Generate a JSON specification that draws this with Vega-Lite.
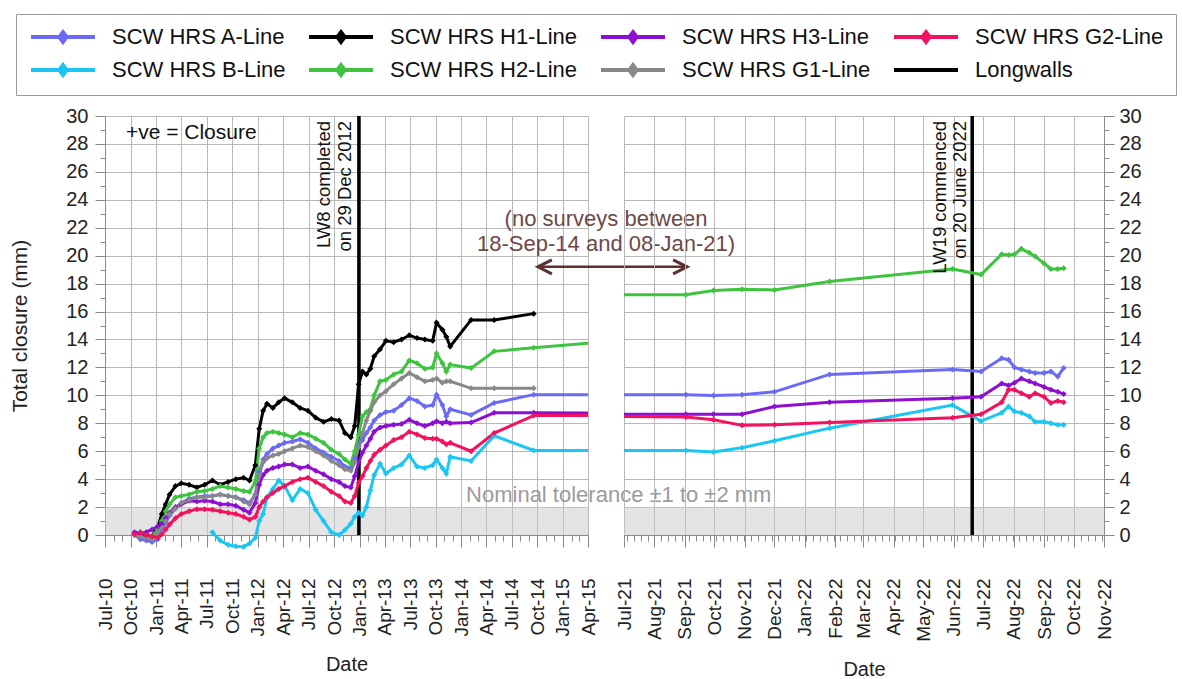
{
"$schema": "https://vega.github.io/schema/vega-lite/v6.json",
"padding": {"left": 9, "top": 13, "right": 10, "bottom": 5},
"config": {
  "font": "Liberation Sans",
  "view": {"stroke": null},
  "axis": {"labelFont":"Liberation Sans","titleFont":"Liberation Sans","labelColor":"#222222","titleColor":"#222222","domainColor":"#8a8a8a","tickColor":"#8a8a8a","gridColor":"#b8b8b8","labelFontSize":20,"titleFontSize":20,"titleFontWeight":"normal","labelOverlap":false,"labelFlush":false},
  "legend": {"orient":"none","legendX":-89,"legendY":-102,"columns":4,"gridAlign":"each","labelFont":"Liberation Sans","labelFontSize":22,"labelColor":"#111111","labelLimit":400,"symbolType":"M-1,0L7,0M3,-0.6L3.45,0L3,0.6L2.55,0Z","symbolSize":256,"symbolStrokeWidth":4,"labelOffset":62,"columnPadding":15,"rowPadding":7,"padding":12,"strokeColor":"#9a9a9a","fillColor":"#ffffff"}
},
"datasets": {
"lw": [{"d":"2012-12-29","s":"LW"},{"d":"2022-06-20","s":"LW"}],
"pts": [
{"d":"2010-10-15","s":"A","v":0},{"d":"2010-11-05","s":"A","v":-0.3},{"d":"2010-11-26","s":"A","v":-0.4},{"d":"2010-12-17","s":"A","v":-0.5},{"d":"2011-01-07","s":"A","v":-0.3},{"d":"2011-01-21","s":"A","v":0.3},{"d":"2011-02-04","s":"A","v":0.9},{"d":"2011-02-18","s":"A","v":1.4},{"d":"2011-03-11","s":"A","v":1.9},{"d":"2011-04-01","s":"A","v":2.3},
{"d":"2011-04-29","s":"A","v":2.6},{"d":"2011-05-27","s":"A","v":2.7},{"d":"2011-06-24","s":"A","v":2.8},{"d":"2011-07-22","s":"A","v":2.8},{"d":"2011-08-19","s":"A","v":2.9},{"d":"2011-09-16","s":"A","v":2.8},{"d":"2011-10-14","s":"A","v":2.7},{"d":"2011-11-11","s":"A","v":2.5},{"d":"2011-12-02","s":"A","v":2.3},{"d":"2011-12-23","s":"A","v":2.9},
{"d":"2012-01-06","s":"A","v":4.5},{"d":"2012-01-20","s":"A","v":5.4},{"d":"2012-02-03","s":"A","v":5.8},{"d":"2012-02-24","s":"A","v":6.2},{"d":"2012-03-16","s":"A","v":6.4},{"d":"2012-04-06","s":"A","v":6.6},{"d":"2012-05-04","s":"A","v":6.7},{"d":"2012-06-01","s":"A","v":6.85},{"d":"2012-06-29","s":"A","v":6.6},{"d":"2012-07-27","s":"A","v":6.2},
{"d":"2012-08-24","s":"A","v":5.9},{"d":"2012-09-21","s":"A","v":5.6},{"d":"2012-10-19","s":"A","v":5.3},{"d":"2012-11-09","s":"A","v":4.9},{"d":"2012-11-30","s":"A","v":4.8},{"d":"2012-12-14","s":"A","v":5.5},{"d":"2012-12-28","s":"A","v":6.4},{"d":"2013-01-11","s":"A","v":6.8},{"d":"2013-01-25","s":"A","v":7.3},{"d":"2013-02-08","s":"A","v":7.7},
{"d":"2013-02-22","s":"A","v":8.2},{"d":"2013-03-15","s":"A","v":8.6},{"d":"2013-04-05","s":"A","v":8.8},{"d":"2013-05-03","s":"A","v":8.9},{"d":"2013-05-31","s":"A","v":9.3},{"d":"2013-06-28","s":"A","v":9.8},{"d":"2013-07-26","s":"A","v":9.6},{"d":"2013-08-23","s":"A","v":9.2},{"d":"2013-09-20","s":"A","v":9.3},{"d":"2013-10-04","s":"A","v":10.05},
{"d":"2013-10-25","s":"A","v":9.3},{"d":"2013-11-08","s":"A","v":8.5},{"d":"2013-11-22","s":"A","v":9.0},{"d":"2014-02-05","s":"A","v":8.6},{"d":"2014-04-29","s":"A","v":9.45},{"d":"2014-09-18","s":"A","v":10.05},{"d":"2021-01-08","s":"A","v":10.05},
{"d":"2021-09-02","s":"A","v":10.05},{"d":"2021-09-30","s":"A","v":9.98},{"d":"2021-10-29","s":"A","v":10.05},{"d":"2021-12-01","s":"A","v":10.25},{"d":"2022-01-26","s":"A","v":11.5},{"d":"2022-05-31","s":"A","v":11.85},{"d":"2022-06-29","s":"A","v":11.7},{"d":"2022-07-20","s":"A","v":12.65},{"d":"2022-07-27","s":"A","v":12.55},{"d":"2022-08-02","s":"A","v":12.0},{"d":"2022-08-09","s":"A","v":11.85},{"d":"2022-08-17","s":"A","v":11.7},{"d":"2022-08-23","s":"A","v":11.6},{"d":"2022-09-01","s":"A","v":11.6},{"d":"2022-09-08","s":"A","v":11.7},{"d":"2022-09-15","s":"A","v":11.35},{"d":"2022-09-21","s":"A","v":11.95},

{"d":"2011-07-22","s":"B","v":0.2},{"d":"2011-08-19","s":"B","v":-0.4},{"d":"2011-09-16","s":"B","v":-0.7},{"d":"2011-10-14","s":"B","v":-0.8},{"d":"2011-11-11","s":"B","v":-0.85},{"d":"2011-12-02","s":"B","v":-0.6},{"d":"2011-12-23","s":"B","v":-0.2},
{"d":"2012-01-06","s":"B","v":1.0},{"d":"2012-01-20","s":"B","v":1.5},{"d":"2012-02-03","s":"B","v":2.7},{"d":"2012-02-24","s":"B","v":3.3},{"d":"2012-03-16","s":"B","v":3.9},{"d":"2012-04-06","s":"B","v":3.5},{"d":"2012-05-04","s":"B","v":2.5},{"d":"2012-06-01","s":"B","v":3.3},{"d":"2012-06-29","s":"B","v":3.0},{"d":"2012-07-27","s":"B","v":1.8},
{"d":"2012-08-24","s":"B","v":1.0},{"d":"2012-09-21","s":"B","v":0.2},{"d":"2012-10-19","s":"B","v":0.0},{"d":"2012-11-09","s":"B","v":0.35},{"d":"2012-11-30","s":"B","v":0.8},{"d":"2012-12-14","s":"B","v":1.3},{"d":"2012-12-28","s":"B","v":1.6},{"d":"2013-01-11","s":"B","v":1.4},{"d":"2013-01-25","s":"B","v":2.0},{"d":"2013-02-08","s":"B","v":3.2},
{"d":"2013-02-22","s":"B","v":4.3},{"d":"2013-03-15","s":"B","v":5.1},{"d":"2013-04-05","s":"B","v":4.4},{"d":"2013-05-03","s":"B","v":4.8},{"d":"2013-05-31","s":"B","v":5.05},{"d":"2013-06-28","s":"B","v":5.7},{"d":"2013-07-26","s":"B","v":4.9},{"d":"2013-08-23","s":"B","v":4.8},{"d":"2013-09-20","s":"B","v":5.0},{"d":"2013-10-04","s":"B","v":5.4},
{"d":"2013-10-25","s":"B","v":4.8},{"d":"2013-11-08","s":"B","v":4.4},{"d":"2013-11-22","s":"B","v":5.6},{"d":"2014-02-05","s":"B","v":5.3},{"d":"2014-04-29","s":"B","v":7.1},{"d":"2014-09-18","s":"B","v":6.05},{"d":"2021-01-08","s":"B","v":6.05},
{"d":"2021-09-02","s":"B","v":6.05},{"d":"2021-09-30","s":"B","v":5.95},{"d":"2021-10-29","s":"B","v":6.25},{"d":"2021-12-01","s":"B","v":6.75},{"d":"2022-01-26","s":"B","v":7.65},{"d":"2022-05-31","s":"B","v":9.3},{"d":"2022-06-29","s":"B","v":8.15},{"d":"2022-07-20","s":"B","v":8.75},{"d":"2022-07-27","s":"B","v":9.2},{"d":"2022-08-02","s":"B","v":8.85},{"d":"2022-08-09","s":"B","v":8.75},{"d":"2022-08-17","s":"B","v":8.5},{"d":"2022-08-23","s":"B","v":8.1},{"d":"2022-09-01","s":"B","v":8.1},{"d":"2022-09-08","s":"B","v":8.0},{"d":"2022-09-15","s":"B","v":7.9},{"d":"2022-09-21","s":"B","v":7.9},

{"d":"2010-10-15","s":"H1","v":0.1},{"d":"2010-11-05","s":"H1","v":0.2},{"d":"2010-11-26","s":"H1","v":0.0},{"d":"2010-12-17","s":"H1","v":-0.1},{"d":"2011-01-07","s":"H1","v":0.6},{"d":"2011-01-21","s":"H1","v":1.5},{"d":"2011-02-04","s":"H1","v":2.2},{"d":"2011-02-18","s":"H1","v":2.9},{"d":"2011-03-11","s":"H1","v":3.5},{"d":"2011-04-01","s":"H1","v":3.7},
{"d":"2011-04-29","s":"H1","v":3.6},{"d":"2011-05-27","s":"H1","v":3.4},{"d":"2011-06-24","s":"H1","v":3.6},{"d":"2011-07-22","s":"H1","v":3.9},{"d":"2011-08-19","s":"H1","v":3.6},{"d":"2011-09-16","s":"H1","v":3.8},{"d":"2011-10-14","s":"H1","v":4.0},{"d":"2011-11-11","s":"H1","v":4.1},{"d":"2011-12-02","s":"H1","v":3.9},{"d":"2011-12-23","s":"H1","v":5.0},
{"d":"2012-01-06","s":"H1","v":7.6},{"d":"2012-01-20","s":"H1","v":8.9},{"d":"2012-02-03","s":"H1","v":9.4},{"d":"2012-02-24","s":"H1","v":9.1},{"d":"2012-03-16","s":"H1","v":9.5},{"d":"2012-04-06","s":"H1","v":9.8},{"d":"2012-05-04","s":"H1","v":9.5},{"d":"2012-06-01","s":"H1","v":9.1},{"d":"2012-06-29","s":"H1","v":8.9},{"d":"2012-07-27","s":"H1","v":8.4},
{"d":"2012-08-24","s":"H1","v":8.1},{"d":"2012-09-21","s":"H1","v":8.3},{"d":"2012-10-19","s":"H1","v":8.2},{"d":"2012-11-09","s":"H1","v":7.3},{"d":"2012-11-30","s":"H1","v":7.0},{"d":"2012-12-14","s":"H1","v":7.8},{"d":"2012-12-28","s":"H1","v":10.8},{"d":"2013-01-11","s":"H1","v":11.7},{"d":"2013-01-25","s":"H1","v":11.5},{"d":"2013-02-08","s":"H1","v":11.9},
{"d":"2013-02-22","s":"H1","v":12.8},{"d":"2013-03-15","s":"H1","v":13.3},{"d":"2013-04-05","s":"H1","v":13.9},{"d":"2013-05-03","s":"H1","v":13.8},{"d":"2013-05-31","s":"H1","v":14.0},{"d":"2013-06-28","s":"H1","v":14.3},{"d":"2013-07-26","s":"H1","v":14.1},{"d":"2013-08-23","s":"H1","v":14.0},{"d":"2013-09-20","s":"H1","v":13.9},{"d":"2013-10-04","s":"H1","v":15.2},
{"d":"2013-10-25","s":"H1","v":14.7},{"d":"2013-11-08","s":"H1","v":14.2},{"d":"2013-11-22","s":"H1","v":13.5},{"d":"2014-02-05","s":"H1","v":15.4},{"d":"2014-04-29","s":"H1","v":15.4},{"d":"2014-09-18","s":"H1","v":15.85},

{"d":"2010-10-15","s":"H2","v":0.1},{"d":"2010-11-05","s":"H2","v":0.2},{"d":"2010-11-26","s":"H2","v":0.1},{"d":"2010-12-17","s":"H2","v":-0.1},{"d":"2011-01-07","s":"H2","v":0.4},{"d":"2011-01-21","s":"H2","v":1.0},{"d":"2011-02-04","s":"H2","v":1.7},{"d":"2011-02-18","s":"H2","v":2.2},{"d":"2011-03-11","s":"H2","v":2.7},{"d":"2011-04-01","s":"H2","v":2.8},
{"d":"2011-04-29","s":"H2","v":2.9},{"d":"2011-05-27","s":"H2","v":3.1},{"d":"2011-06-24","s":"H2","v":3.15},{"d":"2011-07-22","s":"H2","v":3.3},{"d":"2011-08-19","s":"H2","v":3.5},{"d":"2011-09-16","s":"H2","v":3.4},{"d":"2011-10-14","s":"H2","v":3.3},{"d":"2011-11-11","s":"H2","v":3.15},{"d":"2011-12-02","s":"H2","v":3.1},{"d":"2011-12-23","s":"H2","v":3.8},
{"d":"2012-01-06","s":"H2","v":6.2},{"d":"2012-01-20","s":"H2","v":7.0},{"d":"2012-02-03","s":"H2","v":7.3},{"d":"2012-02-24","s":"H2","v":7.4},{"d":"2012-03-16","s":"H2","v":7.3},{"d":"2012-04-06","s":"H2","v":7.2},{"d":"2012-05-04","s":"H2","v":7.0},{"d":"2012-06-01","s":"H2","v":7.3},{"d":"2012-06-29","s":"H2","v":7.2},{"d":"2012-07-27","s":"H2","v":6.9},
{"d":"2012-08-24","s":"H2","v":6.6},{"d":"2012-09-21","s":"H2","v":6.1},{"d":"2012-10-19","s":"H2","v":5.8},{"d":"2012-11-09","s":"H2","v":5.4},{"d":"2012-11-30","s":"H2","v":5.1},{"d":"2012-12-14","s":"H2","v":6.0},{"d":"2012-12-28","s":"H2","v":7.2},{"d":"2013-01-11","s":"H2","v":8.5},{"d":"2013-01-25","s":"H2","v":8.8},{"d":"2013-02-08","s":"H2","v":9.0},
{"d":"2013-02-22","s":"H2","v":10.0},{"d":"2013-03-15","s":"H2","v":11.0},{"d":"2013-04-05","s":"H2","v":11.1},{"d":"2013-05-03","s":"H2","v":11.5},{"d":"2013-05-31","s":"H2","v":11.7},{"d":"2013-06-28","s":"H2","v":12.5},{"d":"2013-07-26","s":"H2","v":12.3},{"d":"2013-08-23","s":"H2","v":11.9},{"d":"2013-09-20","s":"H2","v":12.0},{"d":"2013-10-04","s":"H2","v":13.0},
{"d":"2013-10-25","s":"H2","v":12.3},{"d":"2013-11-08","s":"H2","v":11.7},{"d":"2013-11-22","s":"H2","v":12.2},{"d":"2014-02-05","s":"H2","v":11.95},{"d":"2014-04-29","s":"H2","v":13.15},{"d":"2014-09-18","s":"H2","v":13.4},{"d":"2021-01-08","s":"H2","v":17.2},
{"d":"2021-09-02","s":"H2","v":17.2},{"d":"2021-09-30","s":"H2","v":17.5},{"d":"2021-10-29","s":"H2","v":17.6},{"d":"2021-12-01","s":"H2","v":17.55},{"d":"2022-01-26","s":"H2","v":18.15},{"d":"2022-05-31","s":"H2","v":19.05},{"d":"2022-06-29","s":"H2","v":18.65},{"d":"2022-07-20","s":"H2","v":20.1},{"d":"2022-07-27","s":"H2","v":20.05},{"d":"2022-08-02","s":"H2","v":20.1},{"d":"2022-08-09","s":"H2","v":20.5},{"d":"2022-08-17","s":"H2","v":20.2},{"d":"2022-08-23","s":"H2","v":19.95},{"d":"2022-09-01","s":"H2","v":19.45},{"d":"2022-09-08","s":"H2","v":19.05},{"d":"2022-09-15","s":"H2","v":19.05},{"d":"2022-09-21","s":"H2","v":19.1},

{"d":"2010-10-15","s":"H3","v":0.2},{"d":"2010-11-05","s":"H3","v":0.1},{"d":"2010-11-26","s":"H3","v":0.2},{"d":"2010-12-17","s":"H3","v":0.4},{"d":"2011-01-07","s":"H3","v":0.6},{"d":"2011-01-21","s":"H3","v":0.8},{"d":"2011-02-04","s":"H3","v":1.2},{"d":"2011-02-18","s":"H3","v":1.6},{"d":"2011-03-11","s":"H3","v":2.0},{"d":"2011-04-01","s":"H3","v":2.2},
{"d":"2011-04-29","s":"H3","v":2.45},{"d":"2011-05-27","s":"H3","v":2.4},{"d":"2011-06-24","s":"H3","v":2.45},{"d":"2011-07-22","s":"H3","v":2.4},{"d":"2011-08-19","s":"H3","v":2.2},{"d":"2011-09-16","s":"H3","v":2.2},{"d":"2011-10-14","s":"H3","v":2.1},{"d":"2011-11-11","s":"H3","v":1.8},{"d":"2011-12-02","s":"H3","v":1.6},{"d":"2011-12-23","s":"H3","v":2.3},
{"d":"2012-01-06","s":"H3","v":3.6},{"d":"2012-01-20","s":"H3","v":4.3},{"d":"2012-02-03","s":"H3","v":4.6},{"d":"2012-02-24","s":"H3","v":4.8},{"d":"2012-03-16","s":"H3","v":4.9},{"d":"2012-04-06","s":"H3","v":5.05},{"d":"2012-05-04","s":"H3","v":5.05},{"d":"2012-06-01","s":"H3","v":4.8},{"d":"2012-06-29","s":"H3","v":4.9},{"d":"2012-07-27","s":"H3","v":4.6},
{"d":"2012-08-24","s":"H3","v":4.35},{"d":"2012-09-21","s":"H3","v":4.0},{"d":"2012-10-19","s":"H3","v":3.8},{"d":"2012-11-09","s":"H3","v":3.5},{"d":"2012-11-30","s":"H3","v":3.4},{"d":"2012-12-14","s":"H3","v":4.2},{"d":"2012-12-28","s":"H3","v":5.2},{"d":"2013-01-11","s":"H3","v":5.9},{"d":"2013-01-25","s":"H3","v":6.4},{"d":"2013-02-08","s":"H3","v":6.9},
{"d":"2013-02-22","s":"H3","v":7.4},{"d":"2013-03-15","s":"H3","v":7.7},{"d":"2013-04-05","s":"H3","v":7.8},{"d":"2013-05-03","s":"H3","v":7.9},{"d":"2013-05-31","s":"H3","v":7.95},{"d":"2013-06-28","s":"H3","v":8.25},{"d":"2013-07-26","s":"H3","v":8.0},{"d":"2013-08-23","s":"H3","v":7.8},{"d":"2013-09-20","s":"H3","v":8.0},{"d":"2013-10-04","s":"H3","v":8.15},
{"d":"2013-10-25","s":"H3","v":8.0},{"d":"2013-11-08","s":"H3","v":8.1},{"d":"2013-11-22","s":"H3","v":8.0},{"d":"2014-02-05","s":"H3","v":8.05},{"d":"2014-04-29","s":"H3","v":8.75},{"d":"2014-09-18","s":"H3","v":8.75},{"d":"2021-01-08","s":"H3","v":8.65},
{"d":"2021-09-02","s":"H3","v":8.65},{"d":"2021-09-30","s":"H3","v":8.65},{"d":"2021-10-29","s":"H3","v":8.65},{"d":"2021-12-01","s":"H3","v":9.2},{"d":"2022-01-26","s":"H3","v":9.5},{"d":"2022-05-31","s":"H3","v":9.8},{"d":"2022-06-29","s":"H3","v":9.9},{"d":"2022-07-20","s":"H3","v":10.85},{"d":"2022-07-27","s":"H3","v":10.7},{"d":"2022-08-02","s":"H3","v":10.9},{"d":"2022-08-09","s":"H3","v":11.2},{"d":"2022-08-17","s":"H3","v":11.0},{"d":"2022-08-23","s":"H3","v":10.85},{"d":"2022-09-01","s":"H3","v":10.6},{"d":"2022-09-08","s":"H3","v":10.4},{"d":"2022-09-15","s":"H3","v":10.25},{"d":"2022-09-21","s":"H3","v":10.1},

{"d":"2010-10-15","s":"G1","v":0.0},{"d":"2010-11-05","s":"G1","v":-0.1},{"d":"2010-11-26","s":"G1","v":-0.2},{"d":"2010-12-17","s":"G1","v":-0.3},{"d":"2011-01-07","s":"G1","v":0.2},{"d":"2011-01-21","s":"G1","v":0.5},{"d":"2011-02-04","s":"G1","v":1.0},{"d":"2011-02-18","s":"G1","v":1.5},{"d":"2011-03-11","s":"G1","v":1.9},{"d":"2011-04-01","s":"G1","v":2.3},
{"d":"2011-04-29","s":"G1","v":2.5},{"d":"2011-05-27","s":"G1","v":2.7},{"d":"2011-06-24","s":"G1","v":2.7},{"d":"2011-07-22","s":"G1","v":2.8},{"d":"2011-08-19","s":"G1","v":2.9},{"d":"2011-09-16","s":"G1","v":2.8},{"d":"2011-10-14","s":"G1","v":2.7},{"d":"2011-11-11","s":"G1","v":2.4},{"d":"2011-12-02","s":"G1","v":2.2},{"d":"2011-12-23","s":"G1","v":2.9},
{"d":"2012-01-06","s":"G1","v":4.3},{"d":"2012-01-20","s":"G1","v":5.2},{"d":"2012-02-03","s":"G1","v":5.5},{"d":"2012-02-24","s":"G1","v":5.7},{"d":"2012-03-16","s":"G1","v":5.8},{"d":"2012-04-06","s":"G1","v":6.0},{"d":"2012-05-04","s":"G1","v":6.2},{"d":"2012-06-01","s":"G1","v":6.4},{"d":"2012-06-29","s":"G1","v":6.3},{"d":"2012-07-27","s":"G1","v":6.0},
{"d":"2012-08-24","s":"G1","v":5.7},{"d":"2012-09-21","s":"G1","v":5.3},{"d":"2012-10-19","s":"G1","v":5.0},{"d":"2012-11-09","s":"G1","v":4.7},{"d":"2012-11-30","s":"G1","v":4.6},{"d":"2012-12-14","s":"G1","v":5.2},{"d":"2012-12-28","s":"G1","v":6.3},{"d":"2013-01-11","s":"G1","v":7.3},{"d":"2013-01-25","s":"G1","v":8.2},{"d":"2013-02-08","s":"G1","v":8.9},
{"d":"2013-02-22","s":"G1","v":9.5},{"d":"2013-03-15","s":"G1","v":10.0},{"d":"2013-04-05","s":"G1","v":10.3},{"d":"2013-05-03","s":"G1","v":10.8},{"d":"2013-05-31","s":"G1","v":11.2},{"d":"2013-06-28","s":"G1","v":11.6},{"d":"2013-07-26","s":"G1","v":11.3},{"d":"2013-08-23","s":"G1","v":11.0},{"d":"2013-09-20","s":"G1","v":11.1},{"d":"2013-10-04","s":"G1","v":11.2},
{"d":"2013-10-25","s":"G1","v":10.9},{"d":"2013-11-08","s":"G1","v":11.0},{"d":"2013-11-22","s":"G1","v":11.0},{"d":"2014-02-05","s":"G1","v":10.5},{"d":"2014-04-29","s":"G1","v":10.5},{"d":"2014-09-18","s":"G1","v":10.5},

{"d":"2010-10-15","s":"G2","v":0.05},{"d":"2010-11-05","s":"G2","v":0.15},{"d":"2010-11-26","s":"G2","v":0.0},{"d":"2010-12-17","s":"G2","v":-0.1},{"d":"2011-01-07","s":"G2","v":-0.2},{"d":"2011-01-21","s":"G2","v":0.05},{"d":"2011-02-04","s":"G2","v":0.4},{"d":"2011-02-18","s":"G2","v":0.75},{"d":"2011-03-11","s":"G2","v":1.2},{"d":"2011-04-01","s":"G2","v":1.5},
{"d":"2011-04-29","s":"G2","v":1.7},{"d":"2011-05-27","s":"G2","v":1.85},{"d":"2011-06-24","s":"G2","v":1.85},{"d":"2011-07-22","s":"G2","v":1.8},{"d":"2011-08-19","s":"G2","v":1.7},{"d":"2011-09-16","s":"G2","v":1.6},{"d":"2011-10-14","s":"G2","v":1.5},{"d":"2011-11-11","s":"G2","v":1.3},{"d":"2011-12-02","s":"G2","v":1.1},{"d":"2011-12-23","s":"G2","v":1.3},
{"d":"2012-01-06","s":"G2","v":2.0},{"d":"2012-01-20","s":"G2","v":2.4},{"d":"2012-02-03","s":"G2","v":2.7},{"d":"2012-02-24","s":"G2","v":3.0},{"d":"2012-03-16","s":"G2","v":3.3},{"d":"2012-04-06","s":"G2","v":3.5},{"d":"2012-05-04","s":"G2","v":3.8},{"d":"2012-06-01","s":"G2","v":4.0},{"d":"2012-06-29","s":"G2","v":4.1},{"d":"2012-07-27","s":"G2","v":3.8},
{"d":"2012-08-24","s":"G2","v":3.5},{"d":"2012-09-21","s":"G2","v":3.1},{"d":"2012-10-19","s":"G2","v":2.8},{"d":"2012-11-09","s":"G2","v":2.4},{"d":"2012-11-30","s":"G2","v":2.3},{"d":"2012-12-14","s":"G2","v":2.8},{"d":"2012-12-28","s":"G2","v":3.75},{"d":"2013-01-11","s":"G2","v":4.2},{"d":"2013-01-25","s":"G2","v":4.8},{"d":"2013-02-08","s":"G2","v":5.3},
{"d":"2013-02-22","s":"G2","v":5.75},{"d":"2013-03-15","s":"G2","v":6.1},{"d":"2013-04-05","s":"G2","v":6.4},{"d":"2013-05-03","s":"G2","v":6.8},{"d":"2013-05-31","s":"G2","v":7.0},{"d":"2013-06-28","s":"G2","v":7.4},{"d":"2013-07-26","s":"G2","v":7.2},{"d":"2013-08-23","s":"G2","v":6.95},{"d":"2013-09-20","s":"G2","v":6.9},{"d":"2013-10-04","s":"G2","v":6.9},
{"d":"2013-10-25","s":"G2","v":6.7},{"d":"2013-11-08","s":"G2","v":6.5},{"d":"2013-11-22","s":"G2","v":6.6},{"d":"2014-02-05","s":"G2","v":6.0},{"d":"2014-04-29","s":"G2","v":7.3},{"d":"2014-09-18","s":"G2","v":8.55},{"d":"2021-01-08","s":"G2","v":8.6},
{"d":"2021-09-02","s":"G2","v":8.45},{"d":"2021-09-30","s":"G2","v":8.25},{"d":"2021-10-29","s":"G2","v":7.85},{"d":"2021-12-01","s":"G2","v":7.9},{"d":"2022-01-26","s":"G2","v":8.05},{"d":"2022-05-31","s":"G2","v":8.4},{"d":"2022-06-29","s":"G2","v":8.65},{"d":"2022-07-20","s":"G2","v":9.5},{"d":"2022-07-27","s":"G2","v":10.4},{"d":"2022-08-02","s":"G2","v":10.4},{"d":"2022-08-09","s":"G2","v":10.15},{"d":"2022-08-17","s":"G2","v":9.9},{"d":"2022-08-23","s":"G2","v":10.15},{"d":"2022-09-01","s":"G2","v":9.9},{"d":"2022-09-08","s":"G2","v":9.45},{"d":"2022-09-15","s":"G2","v":9.6},{"d":"2022-09-21","s":"G2","v":9.5}
]
},
"spacing": 36,
"bounds": "flush",
"resolve": {"scale": {"color": "shared"}, "legend": {"color": "shared"}},
"hconcat": [
{
 "width": 483, "height": 419,
 "resolve": {"axis": {"x": "independent", "y": "independent"}},
 "layer": [
  {
   "data": {"values": [{"lo": 0, "hi": 2}]},
   "mark": {"type": "rect", "fill": "#c9c9c9", "opacity": 0.5},
   "encoding": {
    "y": {"field": "lo", "type": "quantitative", "scale": {"domain": [0, 30], "nice": false, "zero": false},
          "axis": {"orient": "left", "values": [0,2,4,6,8,10,12,14,16,18,20,22,24,26,28,30], "grid": true, "tickSize": 10, "labelPadding": 7, "title": "Total closure (mm)", "titleFontSize": 21, "titlePadding": 35}},
    "y2": {"field": "hi"}
   }
  },
  {
   "data": {"name": "lw"},
   "mark": {"type": "rule", "clip": true, "strokeWidth": 3.5},
   "encoding": {
    "x": {"field": "d", "type": "temporal", "scale": {"domain": [{"year":2010,"month":7,"date":1},{"year":2015,"month":4,"date":1}]},
          "axis": {"orient": "bottom", "tickCount": {"interval": "month", "step": 1}, "labels": false, "grid": false, "domain": false, "tickSize": 6, "title": null}},
    "color": {"field": "s", "type": "nominal", "scale": {"domain": ["A","B","H1","H2","H3","G1","G2","LW"], "range": ["#6a6af5","#1cc6f2","#000000","#3ec43e","#8c0fd2","#888888","#f2125e","#000000"]},
              "legend": {"title": null, "labelExpr": "datum.label == 'LW' ? 'Longwalls' : 'SCW HRS ' + datum.label + '-Line'", "encode": {"symbols": {"update": {"fill": {"scale": "color", "field": "value"}, "stroke": {"scale": "color", "field": "value"}, "shape": {"signal": "datum.value == 'LW' ? 'M-1,0L7,0' : 'M-1,0L7,0M3,-0.6L3.45,0L3,0.6L2.55,0Z'"}}}}}}
   }
  },
  {
   "data": {"name": "pts"},
   "transform": [{"filter": {"field": "d", "lt": {"year": 2015, "month": 1, "date": 1}}}],
   "mark": {"type": "line", "clip": false, "strokeWidth": 3},
   "encoding": {
    "x": {"field": "d", "type": "temporal", "scale": {"domain": [{"year":2010,"month":7,"date":1},{"year":2015,"month":4,"date":1}]},
          "axis": {"orient": "bottom", "values": [{"year":2010,"month":7,"date":1},{"year":2010,"month":10,"date":1},{"year":2011,"month":1,"date":1},{"year":2011,"month":4,"date":1},{"year":2011,"month":7,"date":1},{"year":2011,"month":10,"date":1},{"year":2012,"month":1,"date":1},{"year":2012,"month":4,"date":1},{"year":2012,"month":7,"date":1},{"year":2012,"month":10,"date":1},{"year":2013,"month":1,"date":1},{"year":2013,"month":4,"date":1},{"year":2013,"month":7,"date":1},{"year":2013,"month":10,"date":1},{"year":2014,"month":1,"date":1},{"year":2014,"month":4,"date":1},{"year":2014,"month":7,"date":1},{"year":2014,"month":10,"date":1},{"year":2015,"month":1,"date":1},{"year":2015,"month":4,"date":1}],
                   "format": "%b-%y", "labelAngle": 270, "labelAlign": "right", "labelBaseline": "middle", "labelFontSize": 19, "tickSize": 12, "labelPadding": 31, "grid": true, "title": "Date", "titlePadding": 18}},
    "y": {"field": "v", "type": "quantitative", "scale": {"domain": [0, 30], "nice": false, "zero": false}, "axis": null},
    "color": {"field": "s", "type": "nominal", "scale": {"domain": ["A","B","H1","H2","H3","G1","G2","LW"], "range": ["#6a6af5","#1cc6f2","#000000","#3ec43e","#8c0fd2","#888888","#f2125e","#000000"]},
              "legend": {"title": null, "labelExpr": "datum.label == 'LW' ? 'Longwalls' : 'SCW HRS ' + datum.label + '-Line'", "encode": {"symbols": {"update": {"fill": {"scale": "color", "field": "value"}, "stroke": {"scale": "color", "field": "value"}, "shape": {"signal": "datum.value == 'LW' ? 'M-1,0L7,0' : 'M-1,0L7,0M3,-0.6L3.45,0L3,0.6L2.55,0Z'"}}}}}}
   }
  },
  {
   "data": {"name": "pts"},
   "transform": [{"filter": {"field": "d", "range": [{"year": 2014, "month": 9, "date": 1}, {"year": 2021, "month": 2, "date": 1}]}}],
   "mark": {"type": "line", "clip": true, "strokeWidth": 3},
   "encoding": {
    "x": {"field": "d", "type": "temporal", "scale": {"domain": [{"year":2010,"month":7,"date":1},{"year":2015,"month":4,"date":1}]}, "axis": null},
    "y": {"field": "v", "type": "quantitative", "scale": {"domain": [0, 30], "nice": false, "zero": false}, "axis": null},
    "color": {"field": "s", "type": "nominal", "scale": {"domain": ["A","B","H1","H2","H3","G1","G2","LW"], "range": ["#6a6af5","#1cc6f2","#000000","#3ec43e","#8c0fd2","#888888","#f2125e","#000000"]},
              "legend": {"title": null, "labelExpr": "datum.label == 'LW' ? 'Longwalls' : 'SCW HRS ' + datum.label + '-Line'", "encode": {"symbols": {"update": {"fill": {"scale": "color", "field": "value"}, "stroke": {"scale": "color", "field": "value"}, "shape": {"signal": "datum.value == 'LW' ? 'M-1,0L7,0' : 'M-1,0L7,0M3,-0.6L3.45,0L3,0.6L2.55,0Z'"}}}}}}
   }
  },
  {
   "data": {"name": "pts"},
   "transform": [{"filter": {"field": "d", "lt": {"year": 2015, "month": 1, "date": 1}}}],
   "mark": {"type": "point", "clip": false, "shape": "diamond", "filled": true, "size": 36, "opacity": 1},
   "encoding": {
    "x": {"field": "d", "type": "temporal", "scale": {"domain": [{"year":2010,"month":7,"date":1},{"year":2015,"month":4,"date":1}]}, "axis": null},
    "y": {"field": "v", "type": "quantitative", "scale": {"domain": [0, 30], "nice": false, "zero": false}, "axis": null},
    "color": {"field": "s", "type": "nominal", "scale": {"domain": ["A","B","H1","H2","H3","G1","G2","LW"], "range": ["#6a6af5","#1cc6f2","#000000","#3ec43e","#8c0fd2","#888888","#f2125e","#000000"]},
              "legend": {"title": null, "labelExpr": "datum.label == 'LW' ? 'Longwalls' : 'SCW HRS ' + datum.label + '-Line'", "encode": {"symbols": {"update": {"fill": {"scale": "color", "field": "value"}, "stroke": {"scale": "color", "field": "value"}, "shape": {"signal": "datum.value == 'LW' ? 'M-1,0L7,0' : 'M-1,0L7,0M3,-0.6L3.45,0L3,0.6L2.55,0Z'"}}}}}}
   }
  },
  {
   "data": {"values": [{"d": "2010-09-14", "v": 28.8, "t": "+ve = Closure"}]},
   "mark": {"type": "text", "align": "left", "baseline": "middle", "fontSize": 21, "color": "#111111"},
   "encoding": {
    "x": {"field": "d", "type": "temporal", "scale": {"domain": [{"year":2010,"month":7,"date":1},{"year":2015,"month":4,"date":1}]}, "axis": null},
    "y": {"field": "v", "type": "quantitative", "scale": {"domain": [0, 30], "nice": false, "zero": false},
          "axis": {"orient": "left", "values": [1,3,5,7,9,11,13,15,17,19,21,23,25,27,29], "labels": false, "grid": false, "domain": false, "tickSize": 5, "title": null}},
    "text": {"field": "t"}
   }
  },
  {
   "data": {"values": [{"d": "2012-10-01", "v": 29.65, "t": "LW8 completed\non 29 Dec 2012"}]},
   "mark": {"type": "text", "angle": 270, "align": "right", "baseline": "bottom", "fontSize": 18.5, "lineBreak": "\n", "lineHeight": 21, "color": "#111111"},
   "encoding": {
    "x": {"field": "d", "type": "temporal", "scale": {"domain": [{"year":2010,"month":7,"date":1},{"year":2015,"month":4,"date":1}]}, "axis": null},
    "y": {"field": "v", "type": "quantitative", "scale": {"domain": [0, 30], "nice": false, "zero": false}, "axis": null},
    "text": {"field": "t"}
   }
  },
  {
   "data": {"values": [{"d": "2015-06-05", "v": 22.65, "t": "(no surveys between"}, {"d": "2015-06-05", "v": 20.85, "t": "18-Sep-14 and 08-Jan-21)"}]},
   "mark": {"type": "text", "align": "center", "baseline": "middle", "fontSize": 22, "color": "#6e4848"},
   "encoding": {
    "x": {"field": "d", "type": "temporal", "scale": {"domain": [{"year":2010,"month":7,"date":1},{"year":2015,"month":4,"date":1}]}, "axis": null},
    "y": {"field": "v", "type": "quantitative", "scale": {"domain": [0, 30], "nice": false, "zero": false}, "axis": null},
    "text": {"field": "t"}
   }
  },
  {
   "data": {"values": [{"d": "2014-01-18", "v": 2.86, "t": "Nominal tolerance ±1 to ±2 mm"}]},
   "mark": {"type": "text", "align": "left", "baseline": "middle", "fontSize": 22, "color": "#9b9b9b"},
   "encoding": {
    "x": {"field": "d", "type": "temporal", "scale": {"domain": [{"year":2010,"month":7,"date":1},{"year":2015,"month":4,"date":1}]}, "axis": null},
    "y": {"field": "v", "type": "quantitative", "scale": {"domain": [0, 30], "nice": false, "zero": false}, "axis": null},
    "text": {"field": "t"}
   }
  },
  {
   "data": {"values": [{"d": "2014-10-03", "d2": "2016-03-22", "v": 19.2}]},
   "mark": {"type": "rule", "color": "#5a3030", "strokeWidth": 2.5},
   "encoding": {
    "x": {"field": "d", "type": "temporal", "scale": {"domain": [{"year":2010,"month":7,"date":1},{"year":2015,"month":4,"date":1}]}, "axis": null},
    "x2": {"field": "d2"},
    "y": {"field": "v", "type": "quantitative", "scale": {"domain": [0, 30], "nice": false, "zero": false}, "axis": null}
   }
  },
  {
   "data": {"values": [{"d": "2014-10-03", "v": 19.2, "k": "L"}, {"d": "2016-03-22", "v": 19.2, "k": "R"}]},
   "mark": {"type": "point", "filled": false, "stroke": "#5a3030", "strokeWidth": 3, "size": 196, "opacity": 1},
   "encoding": {
    "x": {"field": "d", "type": "temporal", "scale": {"domain": [{"year":2010,"month":7,"date":1},{"year":2015,"month":4,"date":1}]}, "axis": null},
    "y": {"field": "v", "type": "quantitative", "scale": {"domain": [0, 30], "nice": false, "zero": false}, "axis": null},
    "shape": {"field": "k", "type": "nominal", "scale": {"domain": ["L", "R"], "range": ["M2,-1L0,0L2,1", "M-2,-1L0,0L-2,1"]}, "legend": null}
   }
  }
 ]
},
{
 "width": 480, "height": 419,
 "resolve": {"axis": {"x": "independent", "y": "independent"}},
 "layer": [
  {
   "data": {"values": [{"lo": 0, "hi": 2}]},
   "mark": {"type": "rect", "fill": "#c9c9c9", "opacity": 0.5},
   "encoding": {
    "y": {"field": "lo", "type": "quantitative", "scale": {"domain": [0, 30], "nice": false, "zero": false},
          "axis": {"orient": "right", "values": [0,2,4,6,8,10,12,14,16,18,20,22,24,26,28,30], "grid": true, "tickSize": 10, "labelPadding": 5, "title": null}},
    "y2": {"field": "hi"}
   }
  },
  {
   "data": {"name": "lw"},
   "mark": {"type": "rule", "clip": true, "strokeWidth": 3.5},
   "encoding": {
    "x": {"field": "d", "type": "temporal", "scale": {"domain": [{"year":2021,"month":7,"date":1},{"year":2022,"month":11,"date":1}]},
          "axis": {"orient": "bottom", "tickCount": {"interval": "week", "step": 1}, "labels": false, "grid": false, "domain": false, "tickSize": 6, "title": null}},
    "color": {"field": "s", "type": "nominal", "scale": {"domain": ["A","B","H1","H2","H3","G1","G2","LW"], "range": ["#6a6af5","#1cc6f2","#000000","#3ec43e","#8c0fd2","#888888","#f2125e","#000000"]},
              "legend": {"title": null, "labelExpr": "datum.label == 'LW' ? 'Longwalls' : 'SCW HRS ' + datum.label + '-Line'", "encode": {"symbols": {"update": {"fill": {"scale": "color", "field": "value"}, "stroke": {"scale": "color", "field": "value"}, "shape": {"signal": "datum.value == 'LW' ? 'M-1,0L7,0' : 'M-1,0L7,0M3,-0.6L3.45,0L3,0.6L2.55,0Z'"}}}}}}
   }
  },
  {
   "data": {"name": "pts"},
   "transform": [{"filter": {"field": "d", "gte": {"year": 2021, "month": 1, "date": 1}}}],
   "mark": {"type": "line", "clip": true, "strokeWidth": 3},
   "encoding": {
    "x": {"field": "d", "type": "temporal", "scale": {"domain": [{"year":2021,"month":7,"date":1},{"year":2022,"month":11,"date":1}]},
          "axis": {"orient": "bottom", "values": [{"year":2021,"month":7,"date":1},{"year":2021,"month":8,"date":1},{"year":2021,"month":9,"date":1},{"year":2021,"month":10,"date":1},{"year":2021,"month":11,"date":1},{"year":2021,"month":12,"date":1},{"year":2022,"month":1,"date":1},{"year":2022,"month":2,"date":1},{"year":2022,"month":3,"date":1},{"year":2022,"month":4,"date":1},{"year":2022,"month":5,"date":1},{"year":2022,"month":6,"date":1},{"year":2022,"month":7,"date":1},{"year":2022,"month":8,"date":1},{"year":2022,"month":9,"date":1},{"year":2022,"month":10,"date":1},{"year":2022,"month":11,"date":1}],
                   "format": "%b-%y", "labelAngle": 270, "labelAlign": "right", "labelBaseline": "middle", "labelFontSize": 19, "tickSize": 12, "labelPadding": 31, "grid": true, "title": "Date", "titlePadding": 18}},
    "y": {"field": "v", "type": "quantitative", "scale": {"domain": [0, 30], "nice": false, "zero": false}, "axis": null},
    "color": {"field": "s", "type": "nominal", "scale": {"domain": ["A","B","H1","H2","H3","G1","G2","LW"], "range": ["#6a6af5","#1cc6f2","#000000","#3ec43e","#8c0fd2","#888888","#f2125e","#000000"]},
              "legend": {"title": null, "labelExpr": "datum.label == 'LW' ? 'Longwalls' : 'SCW HRS ' + datum.label + '-Line'", "encode": {"symbols": {"update": {"fill": {"scale": "color", "field": "value"}, "stroke": {"scale": "color", "field": "value"}, "shape": {"signal": "datum.value == 'LW' ? 'M-1,0L7,0' : 'M-1,0L7,0M3,-0.6L3.45,0L3,0.6L2.55,0Z'"}}}}}}
   }
  },
  {
   "data": {"name": "pts"},
   "transform": [{"filter": {"field": "d", "gte": {"year": 2021, "month": 1, "date": 1}}}],
   "mark": {"type": "point", "clip": true, "shape": "diamond", "filled": true, "size": 36, "opacity": 1},
   "encoding": {
    "x": {"field": "d", "type": "temporal", "scale": {"domain": [{"year":2021,"month":7,"date":1},{"year":2022,"month":11,"date":1}]}, "axis": null},
    "y": {"field": "v", "type": "quantitative", "scale": {"domain": [0, 30], "nice": false, "zero": false}, "axis": null},
    "color": {"field": "s", "type": "nominal", "scale": {"domain": ["A","B","H1","H2","H3","G1","G2","LW"], "range": ["#6a6af5","#1cc6f2","#000000","#3ec43e","#8c0fd2","#888888","#f2125e","#000000"]},
              "legend": {"title": null, "labelExpr": "datum.label == 'LW' ? 'Longwalls' : 'SCW HRS ' + datum.label + '-Line'", "encode": {"symbols": {"update": {"fill": {"scale": "color", "field": "value"}, "stroke": {"scale": "color", "field": "value"}, "shape": {"signal": "datum.value == 'LW' ? 'M-1,0L7,0' : 'M-1,0L7,0M3,-0.6L3.45,0L3,0.6L2.55,0Z'"}}}}}}
   }
  },
  {
   "data": {"values": [{"d": "2022-05-28", "v": 29.65, "t": "LW19 commenced\non 20 June 2022"}]},
   "mark": {"type": "text", "angle": 270, "align": "right", "baseline": "bottom", "fontSize": 18.5, "lineBreak": "\n", "lineHeight": 20, "color": "#111111"},
   "encoding": {
    "x": {"field": "d", "type": "temporal", "scale": {"domain": [{"year":2021,"month":7,"date":1},{"year":2022,"month":11,"date":1}]}, "axis": null},
    "y": {"field": "v", "type": "quantitative", "scale": {"domain": [0, 30], "nice": false, "zero": false},
          "axis": {"orient": "right", "values": [1,3,5,7,9,11,13,15,17,19,21,23,25,27,29], "labels": false, "grid": false, "domain": false, "tickSize": 5, "title": null}},
    "text": {"field": "t"}
   }
  }
 ]
}
]
}
